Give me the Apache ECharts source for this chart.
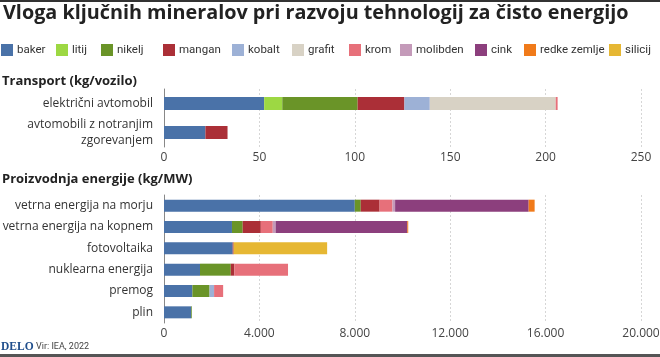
<!DOCTYPE html>
<html><head><meta charset="utf-8">
<script src="https://cdn.jsdelivr.net/npm/echarts@6/dist/echarts.min.js"></script>
<style>html,body{margin:0;padding:0;background:#fff}#c{width:660px;height:357px}</style>
</head><body><div id="c"></div>
<script>
const minerals = ['baker','litij','nikelj','mangan','kobalt','grafit','krom','molibden','cink','redke zemlje','silicij'];
const colors = ['#4a72a8','#9dd843','#6a9428','#ab2f37','#9db1d6','#d8d2c5','#e7707a','#c49ab9','#8c3f7d','#f07a1a','#e6b733'];

const transportCats = ['električni avtomobil','avtomobili z notranjim\nzgorevanjem'];
const tBaker  = [52.5, 21.7];
const tLitij  = [9.5, 0];
const tNikelj = [39.5, 0];
const tMangan = [24.5, 11.6];
const tKobalt = [13.3, 0];
const tGrafit = [66, 0];
const tKrom   = [1, 0];

const energyCats = ['vetrna energija na morju','vetrna energija na kopnem','fotovoltaika','nuklearna energija','premog','plin'];
const eBaker    = [8000, 2850, 2880, 1510, 1190, 1140];
const eNikelj   = [250, 450, 0, 1290, 720, 30];
const eMangan   = [790, 760, 40, 150, 0, 0];
const eKobalt   = [0, 0, 0, 0, 190, 0];
const eKrom     = [540, 500, 0, 2250, 380, 0];
const eMolibden = [110, 120, 0, 0, 0, 0];
const eCink     = [5600, 5520, 0, 0, 0, 0];
const eRedke    = [250, 40, 0, 0, 0, 0];
const eSilicij  = [0, 0, 3920, 0, 0, 0];

const tTicks = [0, 250, 50];
const eTicks = [0, 20000, 4000];

const transportData = {baker:tBaker, litij:tLitij, nikelj:tNikelj, mangan:tMangan, kobalt:tKobalt, grafit:tGrafit, krom:tKrom};
const energyData = {baker:eBaker, nikelj:eNikelj, mangan:eMangan, kobalt:eKobalt, krom:eKrom, molibden:eMolibden, cink:eCink, 'redke zemlje':eRedke, silicij:eSilicij};

const FONT = 'Open Sans';
const series = [];
minerals.forEach((m,i)=>{
  if (transportData[m]) series.push({name:m,type:'bar',stack:'t',xAxisIndex:0,yAxisIndex:0,barWidth:13,
    itemStyle:{color:colors[i]},data:transportData[m].map(v=>v||null)});
  if (energyData[m]) series.push({name:m,type:'bar',stack:'e',xAxisIndex:1,yAxisIndex:1,barWidth:12,
    itemStyle:{color:colors[i]},data:energyData[m].map(v=>v||null)});
});

const legendLeft = [1, 56, 101, 163, 232, 292, 349, 400, 475, 524, 609];
const legends = minerals.map((m,i)=>({
  data:[m], left:legendLeft[i], top:44, icon:'rect', itemWidth:12, itemHeight:12, itemGap:0, padding:0,
  textStyle:{color:'#333',fontFamily:'Roboto',fontSize:11.5,padding:[0,0,0,-1]}
}));

const valAxis = (idx, ticks, fmt) => ({
  type:'value', gridIndex:idx, min:ticks[0], max:ticks[1], interval:ticks[2],
  axisLine:{show:false}, axisTick:{show:false},
  splitLine:{show:true,lineStyle:{color:'#d6d6d6',type:[2,2],width:1}},
  axisLabel:{color:'#444',fontFamily:FONT,fontSize:12,margin:5,formatter:fmt}
});
const catAxis = (idx, cats) => ({
  type:'category', gridIndex:idx, data:cats, inverse:true,
  axisLine:{show:true,lineStyle:{color:'#888'}}, axisTick:{show:false},
  axisLabel:{color:'#333',fontFamily:FONT,fontSize:12,margin:11,lineHeight:16}
});

const chart = echarts.init(document.getElementById('c'));
chart.setOption({
  animation:false,
  textStyle:{fontFamily:FONT},
  color:colors,
  legend:legends,
  grid:[{left:164,right:19,top:89,height:58,containLabel:false,outerBoundsMode:'none'},
        {left:164,right:19,top:195,height:128,containLabel:false,outerBoundsMode:'none'}],
  xAxis:[valAxis(0,tTicks,v=>String(v)), valAxis(1,eTicks,v=>v===0?'0':v.toLocaleString('de-DE'))],
  yAxis:[catAxis(0,transportCats), catAxis(1,energyCats)],
  series:series,
  graphic:[
    {type:'rect',shape:{x:0,y:0,width:660,height:2},style:{fill:'#333'}},
    {type:'text',left:3,top:3,style:{text:'Vloga ključnih mineralov pri razvoju tehnologij za čisto energijo',fontFamily:FONT,fontWeight:'bold',fontSize:19.8,fill:'#222'}},
    {type:'text',left:2,top:75,style:{text:'Transport (kg/vozilo)',fontFamily:FONT,fontWeight:'bold',fontSize:13,fill:'#222'}},
    {type:'text',left:2,top:173,style:{text:'Proizvodnja energije (kg/MW)',fontFamily:FONT,fontWeight:'bold',fontSize:13,fill:'#222'}},
    {type:'text',left:1,top:341,style:{text:'DELO',fontFamily:'Liberation Serif',fontWeight:'bold',fontSize:11.5,fill:'#1f4e8c'}},
    {type:'text',left:36,top:342,style:{text:'Vir: IEA, 2022',fontFamily:'Roboto',fontSize:9,fill:'#444'}},
    {type:'rect',shape:{x:0,y:354,width:660,height:3},style:{fill:'#555'}}
  ]
});
</script></body></html>
